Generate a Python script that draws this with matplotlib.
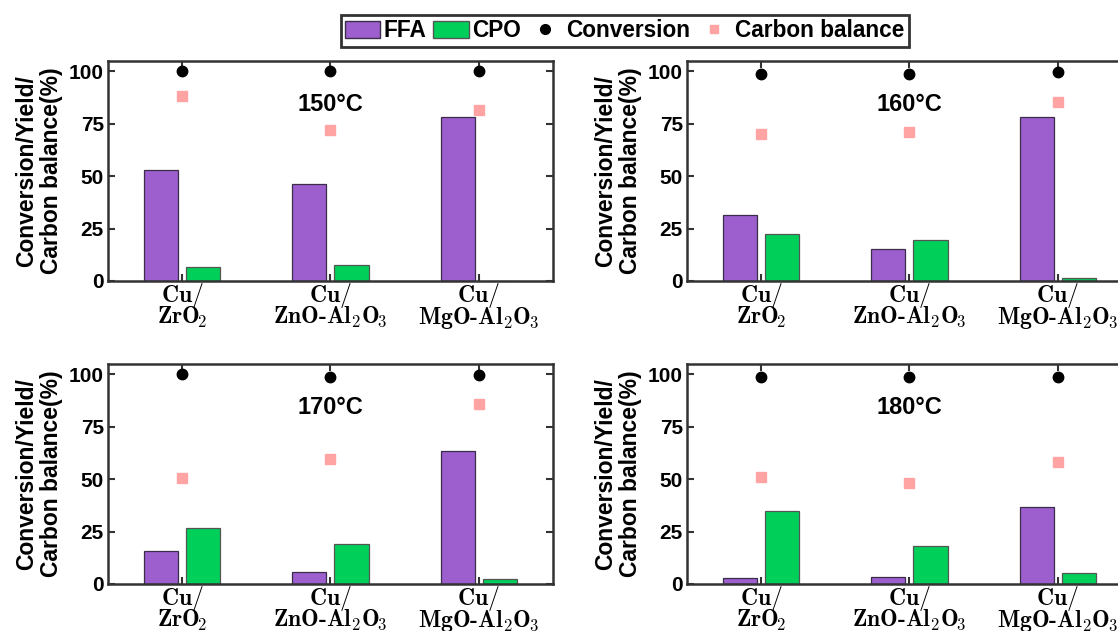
import numpy as np
import matplotlib.pyplot as plt
from matplotlib.patches import Patch
from matplotlib.lines import Line2D

plt.rcParams['font.family'] = ['Liberation Sans', 'DejaVu Sans']
plt.rcParams['font.weight'] = 'bold'
plt.rcParams['axes.labelweight'] = 'bold'
plt.rcParams['mathtext.fontset'] = 'cm'

# catalysts (x tick labels) and reaction temperatures
catalysts = [r'$\mathbf{Cu/}$' + '\n' + r'$\mathbf{ZrO}_{\!\mathbf{2}}$',
             r'$\mathbf{Cu/}$' + '\n' + r'$\mathbf{ZnO}$-$\mathbf{Al}_{\mathbf{2}}\mathbf{O}_{\!\mathbf{3}}$',
             r'$\mathbf{Cu/}$' + '\n' + r'$\mathbf{MgO}$-$\mathbf{Al}_{\mathbf{2}}\mathbf{O}_{\!\mathbf{3}}$']
temps = ['150°C', '160°C', '170°C', '180°C']

# values in %, one row per temperature
ffa_yield = [[53.1, 46.4, 78.0],
             [31.5, 15.2, 78.4],
             [15.7, 5.8, 63.6],
             [2.9, 3.4, 36.8]]
cpo_yield = [[6.6, 7.8, 0.0],
             [22.4, 19.5, 1.4],
             [26.5, 19.0, 2.6],
             [34.8, 18.0, 5.1]]
conversion = [[100.0, 100.0, 100.0],
              [98.7, 98.7, 99.8],
              [100.0, 98.6, 99.5],
              [98.6, 98.6, 98.6]]
carbon_balance = [[88.0, 72.0, 81.6],
                  [70.2, 70.9, 85.4],
                  [50.4, 59.7, 85.7],
                  [51.0, 48.0, 58.3]]

ffa_color = '#9c5fcd'
cpo_color = '#00d05a'
cb_color = '#ffa3a3'

fig = plt.figure(figsize=(11.18, 6.31), dpi=100)

# panel positions (left, bottom, width, height) in figure fractions
W, H = 0.398, 0.349
positions = [(0.0966, 0.5547, W, H), (0.6145, 0.5547, W, H),
             (0.0966, 0.0745, W, H), (0.6145, 0.0745, W, H)]

x = np.arange(len(catalysts))
bw = 0.23
off = 0.142

for i, pos in enumerate(positions):
    ax = fig.add_axes(pos)
    ax.bar(x - off, ffa_yield[i], bw, color=ffa_color, edgecolor='#3b2d4a', linewidth=0.9, zorder=2)
    ax.bar(x + off, cpo_yield[i], bw, color=cpo_color, edgecolor='#555555', linewidth=0.9, zorder=2)
    ax.plot(x, conversion[i], 'o', color='black', markersize=7.5, zorder=4, clip_on=False)
    ax.plot(x, carbon_balance[i], 's', color=cb_color, markersize=7, zorder=3)

    ax.set_xlim(-0.5, 2.5)
    ax.set_ylim(0, 105)
    ax.set_yticks([0, 25, 50, 75, 100])
    ax.set_xticks(x)
    ax.tick_params(direction='in', length=5, width=1.5, top=True, right=True,
                   pad=3, color='#333333')
    ax.tick_params(axis='y', labelsize=15)
    ax.tick_params(axis='x', pad=0)
    ax.set_xticklabels(catalysts, fontfamily='cmb10', fontsize=17, linespacing=0.72)
    for sp in ax.spines.values():
        sp.set_linewidth(1.8)
        sp.set_color('#333333')
    ax.set_ylabel('Conversion/Yield/\nCarbon balance(%)', fontsize=16.5,
                  linespacing=1.1, labelpad=4)
    ax.text(0.5, 0.8, temps[i], transform=ax.transAxes, ha='center', va='center',
            fontsize=17)

handles = [Patch(facecolor=ffa_color, edgecolor='#3b2d4a', label='FFA'),
           Patch(facecolor=cpo_color, edgecolor='#555555', label='CPO'),
           Line2D([], [], marker='o', color='black', linestyle='none', markersize=7, label='Conversion'),
           Line2D([], [], marker='s', color=cb_color, linestyle='none', markersize=6, label='Carbon balance')]
leg = fig.legend(handles=handles, loc='center', bbox_to_anchor=(0.559, 0.951), ncol=4,
                 fontsize=16.3, frameon=True, fancybox=False, edgecolor='black',
                 handlelength=1.55, handleheight=0.75, handletextpad=0.15,
                 columnspacing=0.3, borderpad=0.2, borderaxespad=0)
leg.get_frame().set_linewidth(2)

fig.savefig('out.png', dpi=100)
